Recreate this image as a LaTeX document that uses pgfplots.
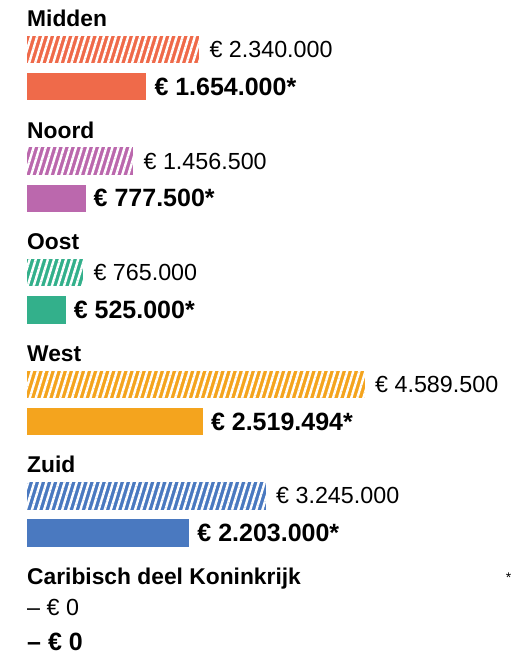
\documentclass[border=0pt]{standalone}
\usepackage{pgfplots}
\pgfplotsset{compat=1.18}
\usetikzlibrary{patterns.meta}
\usepackage{fontspec}
\setmainfont{Liberation Sans}
\definecolor{cmid}{HTML}{EF6A4A}
\definecolor{cnoord}{HTML}{BB68AD}
\definecolor{coost}{HTML}{33B08B}
\definecolor{cwest}{HTML}{F4A41E}
\definecolor{czuid}{HTML}{4A79C0}
\newcommand{\ttl}{\fontsize{22.8}{26}\selectfont\bfseries}
\pgfplotsset{
  hatched/.style={xbar, bar shift=0pt, bar width=27.5pt, draw=none, fill=#1,
    postaction={pattern={Lines[angle=73,distance=5.8pt,line width=2.4pt]}, pattern color=white},
    point meta=explicit symbolic, nodes near coords,
    nodes near coords align={anchor=west},
    every node near coord/.append style={anchor=west, inner sep=0pt, xshift=10pt, text=black,
      font=\fontsize{23.3}{27}\selectfont}},
  solid/.style={xbar, bar shift=0pt, bar width=27.5pt, draw=none, fill=#1,
    point meta=explicit symbolic, nodes near coords,
    nodes near coords align={anchor=west},
    every node near coord/.append style={anchor=west, inner sep=0pt, xshift=8pt, text=black,
      font=\fontsize{25}{29}\selectfont\bfseries}},
}
\begin{document}
\begin{tikzpicture}
\begin{axis}[
  scale only axis, width=512pt, height=654pt,
  xmin=-366.6, xmax=6585.5, ymin=-654, ymax=0,
  hide axis, clip=false,
]
\path[use as bounding box] (rel axis cs:0,0) rectangle (rel axis cs:1,1);
% Midden
\addplot[hatched=cmid] coordinates {(2340,-49.5) [€ 2.340.000]};
\addplot[solid=cmid] coordinates {(1620,-86.7) [€ 1.654.000*]};
% Noord
\addplot[hatched=cnoord] coordinates {(1445,-161.1) [€ 1.456.500]};
\addplot[solid=cnoord] coordinates {(795,-198.3) [€ 777.500*]};
% Oost
\addplot[hatched=coost] coordinates {(765,-272.7) [€ 765.000]};
\addplot[solid=coost] coordinates {(525,-309.9) [€ 525.000*]};
% West
\addplot[hatched=cwest] coordinates {(4589.5,-384.3) [€ 4.589.500]};
\addplot[solid=cwest] coordinates {(2388,-421.5) [€ 2.519.494*]};
% Zuid
\addplot[hatched=czuid] coordinates {(3245,-495.9) [€ 3.245.000]};
\addplot[solid=czuid] coordinates {(2203,-533.1) [€ 2.203.000*]};

\node[anchor=base west, inner sep=0pt] at (axis cs:0,-26.5) {\ttl Midden};
\node[anchor=base west, inner sep=0pt] at (axis cs:0,-138.1) {\ttl Noord};
\node[anchor=base west, inner sep=0pt] at (axis cs:0,-249.7) {\ttl Oost};
\node[anchor=base west, inner sep=0pt] at (axis cs:0,-361.3) {\ttl West};
\node[anchor=base west, inner sep=0pt] at (axis cs:0,-472.9) {\ttl Zuid};
\node[anchor=base west, inner sep=0pt] at (axis cs:0,-584.5) {\ttl Caribisch deel Koninkrijk};
\node[anchor=west, inner sep=0pt] at (axis cs:0,-607) {\fontsize{23.3}{27}\selectfont – € 0};
\node[anchor=west, inner sep=0pt] at (axis cs:0,-641.5) {\fontsize{25}{29}\selectfont\bfseries – € 0};
\node[inner sep=0pt] at (axis cs:6540,-578) {\fontsize{14}{16}\selectfont *};
\end{axis}
\end{tikzpicture}
\end{document}
